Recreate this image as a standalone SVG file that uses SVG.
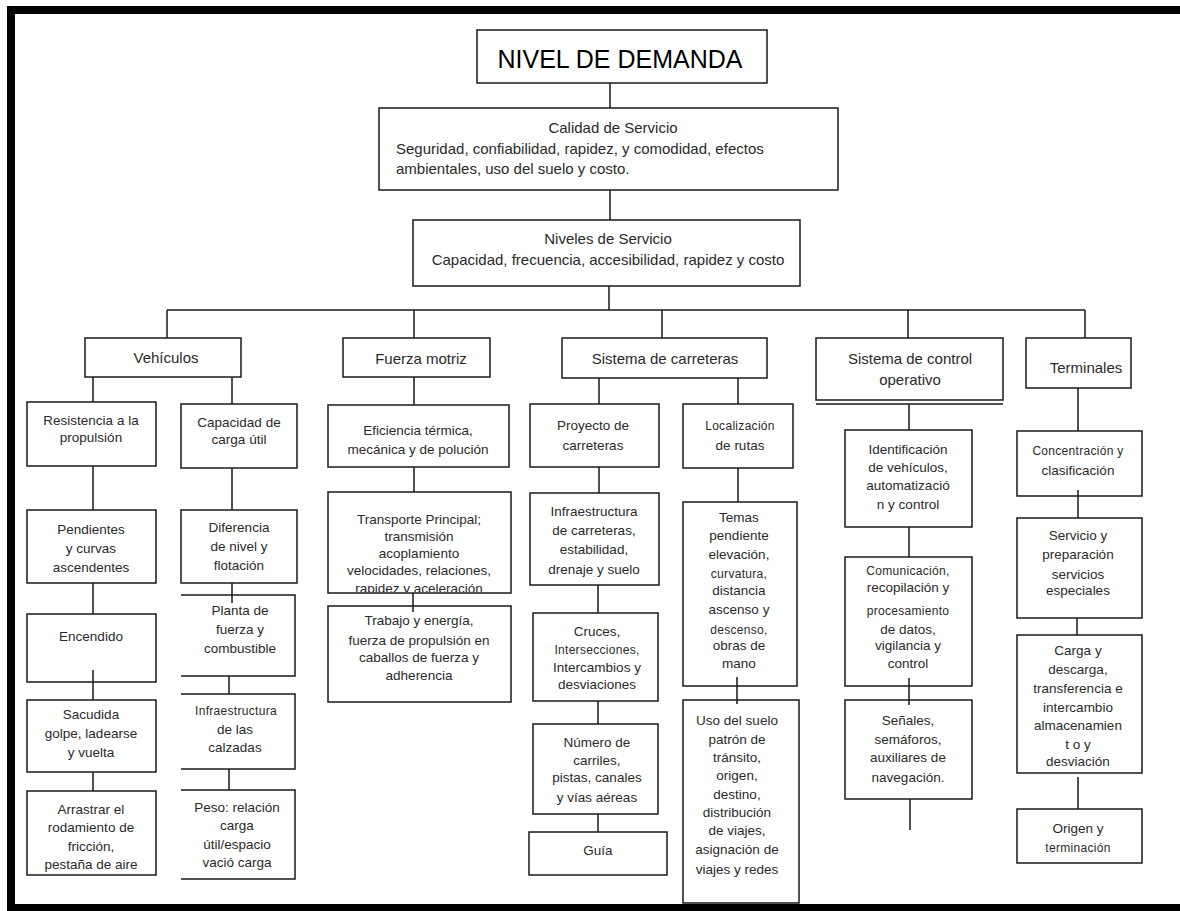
<svg xmlns="http://www.w3.org/2000/svg" width="1180" height="911" viewBox="0 0 1180 911">
<style>
.b{fill:#fff;stroke:#1a1a1a;stroke-width:1.5}
.o{fill:none;stroke:#1a1a1a;stroke-width:1.5}
.c{fill:none;stroke:#1a1a1a;stroke-width:1.5}
text{font-family:"Liberation Sans",Arial,sans-serif;fill:#2a2a2a}
.h{font-size:15px;text-anchor:middle}
.hl{font-size:15px}
.t{font-size:13.5px;text-anchor:middle}
.s{font-size:12px;letter-spacing:0.3px;text-anchor:middle}
</style>
<defs>
<clipPath id="clipTr"><rect x="328" y="492" width="183" height="100"/></clipPath>
</defs>
<rect width="1180" height="911" fill="#fff"/>
<path d="M1180,10 H11 V908 H1180" fill="none" stroke="#000" stroke-width="8"/>

<g id="nivel-demanda">
<rect class="b" x="477" y="30" width="290" height="53"/>
<text x="620" y="68" style="font-size:25px;fill:#000;text-anchor:middle">NIVEL DE DEMANDA</text>
</g>
<g id="calidad">
<rect class="b" x="379" y="108" width="459" height="82"/>
<text class="h" x="613" y="133">Calidad de Servicio</text>
<text class="hl" x="396" y="154">Seguridad, confiabilidad, rapidez, y comodidad, efectos</text>
<text class="hl" x="396" y="174">ambientales, uso del suelo y costo.</text>
</g>
<g id="niveles">
<rect class="b" x="413" y="220" width="387" height="66"/>
<text class="h" x="608" y="244">Niveles de Servicio</text>
<text class="h" x="608" y="265">Capacidad, frecuencia, accesibilidad, rapidez y costo</text>
</g>

<g id="vehiculos">
<rect class="b" x="85" y="338" width="156" height="39"/>
<text class="h" x="166" y="363">Vehículos</text>
</g>
<g id="fuerza-motriz">
<rect class="b" x="343" y="338" width="147" height="39"/>
<text class="h" x="421" y="364">Fuerza motriz</text>
</g>
<g id="sistema-carreteras">
<rect class="b" x="562" y="338" width="205" height="40"/>
<text class="h" x="665" y="364">Sistema de carreteras</text>
</g>
<g id="sistema-control">
<rect class="b" x="816" y="338" width="187" height="62"/>
<line class="c" x1="816" y1="404" x2="1003" y2="404"/>
<text class="h" x="910" y="364">Sistema de control</text>
<text class="h" x="910" y="385">operativo</text>
</g>
<g id="terminales">
<rect class="b" x="1026" y="338" width="105" height="50"/>
<text class="h" x="1086" y="373">Terminales</text>
</g>

<g id="resistencia">
<rect class="b" x="27" y="402" width="129" height="64"/>
<text class="t" x="91" y="425">Resistencia a la</text>
<text class="t" x="91" y="442">propulsión</text>
</g>
<g id="capacidad-carga">
<rect class="b" x="181" y="404" width="116" height="64"/>
<text class="t" x="239" y="427">Capacidad de</text>
<text class="t" x="239" y="444">carga útil</text>
</g>
<g id="pendientes">
<rect class="b" x="27" y="510" width="129" height="73"/>
<text class="t" x="91" y="534">Pendientes</text>
<text class="t" x="91" y="553">y curvas</text>
<text class="t" x="91" y="572">ascendentes</text>
</g>
<g id="diferencia">
<rect class="b" x="181" y="510" width="116" height="73"/>
<text class="t" x="239" y="532">Diferencia</text>
<text class="t" x="239" y="551">de nivel y</text>
<text class="t" x="239" y="570">flotación</text>
</g>
<g id="encendido">
<rect class="b" x="27" y="614" width="129" height="68"/>
<text class="t" x="91" y="641">Encendido</text>
</g>
<g id="sacudida">
<rect class="b" x="27" y="700" width="129" height="72"/>
<text class="t" x="91" y="719">Sacudida</text>
<text class="t" x="91" y="738">golpe, ladearse</text>
<text class="t" x="91" y="757">y vuelta</text>
</g>
<g id="arrastrar">
<rect class="b" x="27" y="791" width="129" height="84"/>
<text class="t" x="91" y="814">Arrastrar el</text>
<text class="t" x="91" y="832">rodamiento de</text>
<text class="t" x="91" y="851">fricción,</text>
<text class="t" x="91" y="869">pestaña de aire</text>
</g>
<g id="planta">
<path class="o" d="M181,595 H295 V676 H181"/>
<text class="t" x="240" y="615">Planta de</text>
<text class="t" x="240" y="634">fuerza y</text>
<text class="t" x="240" y="653">combustible</text>
</g>
<g id="infra-calzadas">
<path class="o" d="M181,694 H295 V769 H181"/>
<text class="s" x="236" y="715">Infraestructura</text>
<text class="t" x="235" y="734">de las</text>
<text class="t" x="235" y="752">calzadas</text>
</g>
<g id="peso">
<path class="o" d="M181,790 H295 V879 H181"/>
<text class="t" x="237" y="812">Peso: relación</text>
<text class="t" x="237" y="830">carga</text>
<text class="t" x="237" y="849">útil/espacio</text>
<text class="t" x="237" y="867">vació carga</text>
</g>

<g id="eficiencia">
<rect class="b" x="328" y="405" width="181" height="62"/>
<text class="t" x="418" y="435">Eficiencia térmica,</text>
<text class="t" x="418" y="454">mecánica y de polución</text>
</g>
<g id="transporte">
<rect class="b" x="328" y="492" width="183" height="101"/>
<g clip-path="url(#clipTr)">
<text class="t" x="419" y="524">Transporte Principal;</text>
<text class="t" x="419" y="541">transmisión</text>
<text class="t" x="419" y="558">acoplamiento</text>
<text class="t" x="419" y="575">velocidades, relaciones,</text>
<text class="t" x="419" y="593">rapidez y aceleración</text>
</g>
</g>
<g id="trabajo">
<rect class="b" x="328" y="606" width="183" height="96"/>
<text class="t" x="419" y="625">Trabajo y energía,</text>
<text class="t" x="419" y="645">fuerza de propulsión en</text>
<text class="t" x="419" y="662">caballos de fuerza y</text>
<text class="t" x="419" y="680">adherencia</text>
</g>

<g id="proyecto">
<rect class="b" x="530" y="404" width="129" height="63"/>
<text class="t" x="593" y="430">Proyecto de</text>
<text class="t" x="593" y="450">carreteras</text>
</g>
<g id="localizacion">
<rect class="b" x="683" y="404" width="110" height="64"/>
<text class="s" x="740" y="430">Localización</text>
<text class="t" x="740" y="450">de rutas</text>
</g>
<g id="infra-carreteras">
<rect class="b" x="530" y="493" width="129" height="92"/>
<text class="t" x="594" y="516">Infraestructura</text>
<text class="t" x="594" y="535">de carreteras,</text>
<text class="t" x="594" y="554">estabilidad,</text>
<text class="t" x="594" y="574">drenaje y suelo</text>
</g>
<g id="cruces">
<rect class="b" x="533" y="613" width="125" height="88"/>
<text class="t" x="597" y="636">Cruces,</text>
<text class="s" x="597" y="654">Intersecciones,</text>
<text class="t" x="597" y="672">Intercambios y</text>
<text class="t" x="597" y="689">desviaciones</text>
</g>
<g id="numero">
<rect class="b" x="533" y="724" width="125" height="90"/>
<text class="t" x="597" y="747">Número de</text>
<text class="t" x="597" y="765">carriles,</text>
<text class="t" x="597" y="782">pistas, canales</text>
<text class="t" x="597" y="802">y vías aéreas</text>
</g>
<g id="guia">
<rect class="b" x="529" y="832" width="138" height="43"/>
<text class="t" x="598" y="855">Guía</text>
</g>
<g id="temas">
<rect class="b" x="683" y="502" width="114" height="184"/>
<text class="t" x="739" y="522">Temas</text>
<text class="t" x="739" y="540">pendiente</text>
<text class="t" x="739" y="559">elevación,</text>
<text class="s" x="739" y="578">curvatura,</text>
<text class="t" x="739" y="595">distancia</text>
<text class="t" x="739" y="614">ascenso y</text>
<text class="s" x="739" y="634">descenso,</text>
<text class="t" x="739" y="650">obras de</text>
<text class="t" x="739" y="668">mano</text>
</g>
<g id="uso-suelo">
<rect class="b" x="683" y="700" width="116" height="203"/>
<text class="t" x="737" y="725">Uso del suelo</text>
<text class="t" x="737" y="744">patrón de</text>
<text class="t" x="737" y="762">tránsito,</text>
<text class="t" x="737" y="780">origen,</text>
<text class="t" x="737" y="799">destino,</text>
<text class="t" x="737" y="817">distribución</text>
<text class="t" x="737" y="835">de viajes,</text>
<text class="t" x="737" y="854">asignación de</text>
<text class="t" x="737" y="874">viajes y redes</text>
</g>

<g id="identificacion">
<rect class="b" x="845" y="430" width="127" height="97"/>
<text class="t" x="908" y="454">Identificación</text>
<text class="t" x="908" y="472">de vehículos,</text>
<text class="t" x="908" y="490">automatizació</text>
<text class="t" x="908" y="509">n y control</text>
</g>
<g id="comunicacion">
<rect class="b" x="845" y="557" width="127" height="129"/>
<text class="s" x="908" y="575">Comunicación,</text>
<text class="t" x="908" y="592">recopilación y</text>
<text class="s" x="908" y="615">procesamiento</text>
<text class="t" x="908" y="634">de datos,</text>
<text class="t" x="908" y="650">vigilancia y</text>
<text class="t" x="908" y="668">control</text>
</g>
<g id="senales">
<rect class="b" x="845" y="700" width="127" height="99"/>
<text class="t" x="908" y="725">Señales,</text>
<text class="t" x="908" y="744">semáforos,</text>
<text class="t" x="908" y="762">auxiliares de</text>
<text class="t" x="908" y="782">navegación.</text>
</g>

<g id="concentracion">
<rect class="b" x="1017" y="431" width="125" height="65"/>
<text class="s" x="1078" y="455">Concentración y</text>
<text class="t" x="1078" y="475">clasificación</text>
</g>
<g id="servicio">
<rect class="b" x="1017" y="518" width="125" height="100"/>
<text class="t" x="1078" y="540">Servicio y</text>
<text class="t" x="1078" y="559">preparación</text>
<text class="t" x="1078" y="579">servicios</text>
<text class="t" x="1078" y="595">especiales</text>
</g>
<g id="carga">
<rect class="b" x="1017" y="635" width="125" height="138"/>
<text class="t" x="1078" y="655">Carga y</text>
<text class="t" x="1078" y="674">descarga,</text>
<text class="t" x="1078" y="693">transferencia e</text>
<text class="t" x="1078" y="712">intercambio</text>
<text class="t" x="1078" y="730">almacenamien</text>
<text class="t" x="1078" y="749">t o y</text>
<text class="t" x="1078" y="766">desviación</text>
</g>
<g id="origen">
<rect class="b" x="1017" y="809" width="125" height="54"/>
<text class="t" x="1078" y="833">Origen y</text>
<text class="s" x="1078" y="852">terminación</text>
</g>

<g id="connectors" class="c">
<path class="c" d="M610,83V108 M610,190V220 M609,286V310 M167,310H1085 M167,310V338 M414,310V338 M662,310V338 M908,310V338 M1085,310V338"/>
<path class="c" d="M93,377V402 M232,377V404 M93,466V510 M232,468V510 M93,583V614 M232,583V603 M93,670V700 M229,676V694 M93,772V791 M229,769V790"/>
<path class="c" d="M414,377V405 M414,467V492 M413,593V612"/>
<path class="c" d="M599,378V404 M738,378V404 M599,467V493 M738,468V502 M598,585V613 M737,677V704 M598,701V724 M598,814V832"/>
<path class="c" d="M909,404V430 M909,527V557 M909,678V705 M910,799V830"/>
<path class="c" d="M1078,388V431 M1078,490V518 M1077,618V635 M1078,777V809"/>
</g>
</svg>
